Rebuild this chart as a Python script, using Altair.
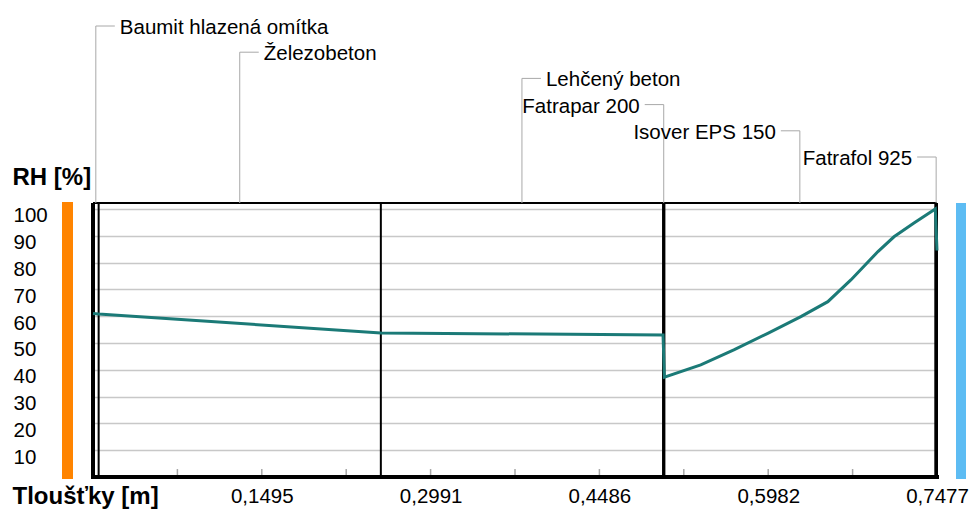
import altair as alt
import pandas as pd

# Wall assembly from the interior (left) to the exterior (right)
layer_names = ["Baumit hlazená omítka", "Železobeton", "Lehčený beton",
               "Fatrapar 200", "Isover EPS 150", "Fatrafol 925"]
layer_thickness = [0.005, 0.25, 0.25, 0.0012, 0.24, 0.0015]  # m

# Relative humidity profile through the wall
rh_x = [0.0, 0.005, 0.255, 0.505, 0.5062, 0.5384, 0.5677, 0.5978, 0.6271,
        0.6510, 0.6714, 0.6954, 0.7096, 0.7273, 0.7462, 0.7477]
rh_val = [61.0, 60.8, 53.7, 53.0, 37.2, 41.8, 47.4, 53.6, 59.8,
          65.4, 73.5, 84.1, 89.6, 94.7, 100.0, 84.5]

x_label_values = [0.1495, 0.2991, 0.4486, 0.5982, 0.7477]
y_label_values = [10, 20, 30, 40, 50, 60, 70, 80, 90, 100]

# ---- layout ----
W, H = 844, 274
PAD_L, PAD_T = 93, 203
FONT = "Liberation Sans"
total = sum(layer_thickness)
Y_MAX = 102.2

bounds = [0.0]
for t in layer_thickness:
    bounds.append(bounds[-1] + t)

layers = pd.DataFrame({
    "name": layer_names,
    "start": bounds[:-1],
    "end": bounds[1:],
})
layers["mid"] = (layers["start"] + layers["end"]) / 2
layers["row"] = range(len(layers))
layers["row_y"] = 26 + 26.2 * layers["row"] - PAD_T   # leader height, px above the plot
layers["text_y"] = layers["row_y"] + 2
layers["top"] = 0
stub = 19 * total / W
layers["side"] = ["right" if i < 3 else "left" for i in layers["row"]]
layers["stub_end"] = [m + stub if s == "right" else m - stub
                      for m, s in zip(layers["mid"], layers["side"])]

profile = pd.DataFrame({"x": rh_x, "rh": rh_val})
bound_df = pd.DataFrame({"b": bounds})
minor_df = pd.DataFrame({"t": [total * k / 10 for k in range(1, 10)]})
one = pd.DataFrame({"k": [0]})

x_scale = alt.Scale(domain=[0, total], nice=False, zero=False)
y_scale = alt.Scale(domain=[0, Y_MAX], nice=False)

x_axis = alt.Axis(
    values=x_label_values, grid=False, domain=False, ticks=False, tickSize=0,
    labelExpr="replace(format(datum.value, '.4f'), '.', ',')",
    labelPadding=19, labelBaseline="middle", labelFlush=False,
    labelFont=FONT, labelFontSize=20.5, labelColor="#000",
    title="Tloušťky [m]", titleFont=FONT, titleFontSize=24, titleFontWeight="bold",
    titleColor="#000", titleAlign="left", titleAnchor="start", titleBaseline="middle",
    titleX=12 - PAD_L, titleY=19,
)
y_axis = alt.Axis(
    values=y_label_values, grid=True, gridColor="#c8c8c8", gridWidth=1.5,
    domain=False, ticks=False, tickSize=0,
    labelAlign="left", labelPadding=80, labelBaseline="middle", labelOffset=7,
    labelFont=FONT, labelFontSize=20.5, labelColor="#000",
    title="RH [%]", titleAngle=0, titleFont=FONT, titleFontSize=24,
    titleFontWeight="bold", titleColor="#000", titleAlign="left",
    titleBaseline="middle", titleX=12 - PAD_L, titleY=177 - PAD_T,
)

base_x = alt.X("x:Q", scale=x_scale, axis=x_axis)

# interior / exterior colour bars
interior_bar = alt.Chart(one).mark_rect(color="#ff8400").encode(
    x=alt.value(-31), x2=alt.value(-20), y=alt.value(-1), y2=alt.value(H + 2))
exterior_bar = alt.Chart(one).mark_rect(color="#5dbcf3").encode(
    x=alt.value(W + 19), x2=alt.value(W + 29), y=alt.value(0), y2=alt.value(H + 2))

# RH line with grid and axes
rh_line = alt.Chart(profile).mark_line(color="#1b7a77", strokeWidth=3).encode(
    x=base_x,
    y=alt.Y("rh:Q", scale=y_scale, axis=y_axis),
)

# material boundaries
boundary_rules = alt.Chart(bound_df).mark_rule(color="#000", strokeWidth=2).encode(
    x=alt.X("b:Q", scale=x_scale), y=alt.value(0), y2=alt.value(H))
left_edge = alt.Chart(one).mark_rule(color="#000", strokeWidth=4).encode(
    x=alt.value(0), y=alt.value(0), y2=alt.value(H))
top_edge = alt.Chart(one).mark_rule(color="#000", strokeWidth=2).encode(
    x=alt.value(0), x2=alt.value(W), y=alt.value(0))
bottom_edge = alt.Chart(one).mark_rule(color="#000", strokeWidth=4).encode(
    x=alt.value(-2), x2=alt.value(W + 2), y=alt.value(H))

# small ticks along the thickness axis
minor_ticks = alt.Chart(minor_df).mark_rule(color="#a8a8a8", strokeWidth=1.5).encode(
    x=alt.X("t:Q", scale=x_scale), y=alt.value(H - 8), y2=alt.value(H))

main = alt.layer(interior_bar, exterior_bar, boundary_rules, left_edge,
                 minor_ticks, top_edge, bottom_edge, rh_line)

# material names with leader lines above the plot
leader_v = alt.Chart(layers).mark_rule(color="#a8a8a8", strokeWidth=1).encode(
    x=alt.X("mid:Q", scale=x_scale),
    y=alt.Y("row_y:Q", scale=None, axis=None), y2=alt.Y2("top:Q"))
leader_h = alt.Chart(layers).mark_rule(color="#a8a8a8", strokeWidth=1).encode(
    x=alt.X("mid:Q", scale=x_scale), x2=alt.X2("stub_end:Q"),
    y=alt.Y("row_y:Q", scale=None, axis=None))
names_right = alt.Chart(layers).transform_filter("datum.side == 'right'").mark_text(
    align="left", baseline="middle", dx=24, font=FONT, fontSize=20.5, color="#000"
).encode(x=alt.X("mid:Q", scale=x_scale),
         y=alt.Y("text_y:Q", scale=None, axis=None), text="name:N")
names_left = alt.Chart(layers).transform_filter("datum.side == 'left'").mark_text(
    align="right", baseline="middle", dx=-24, font=FONT, fontSize=20.5, color="#000"
).encode(x=alt.X("mid:Q", scale=x_scale),
         y=alt.Y("text_y:Q", scale=None, axis=None), text="name:N")

labels = alt.layer(leader_v, leader_h, names_right, names_left)

chart = alt.layer(main, labels).resolve_scale(y="independent").properties(
    width=W, height=H,
    autosize=alt.AutoSizeParams(type="none"),
    padding={"left": PAD_L, "top": PAD_T, "right": 972 - PAD_L - W,
             "bottom": 509 - PAD_T - H},
).configure_view(stroke=None).configure(background="white")

chart.save("out.html", embed_options={"renderer": "svg", "actions": False})
